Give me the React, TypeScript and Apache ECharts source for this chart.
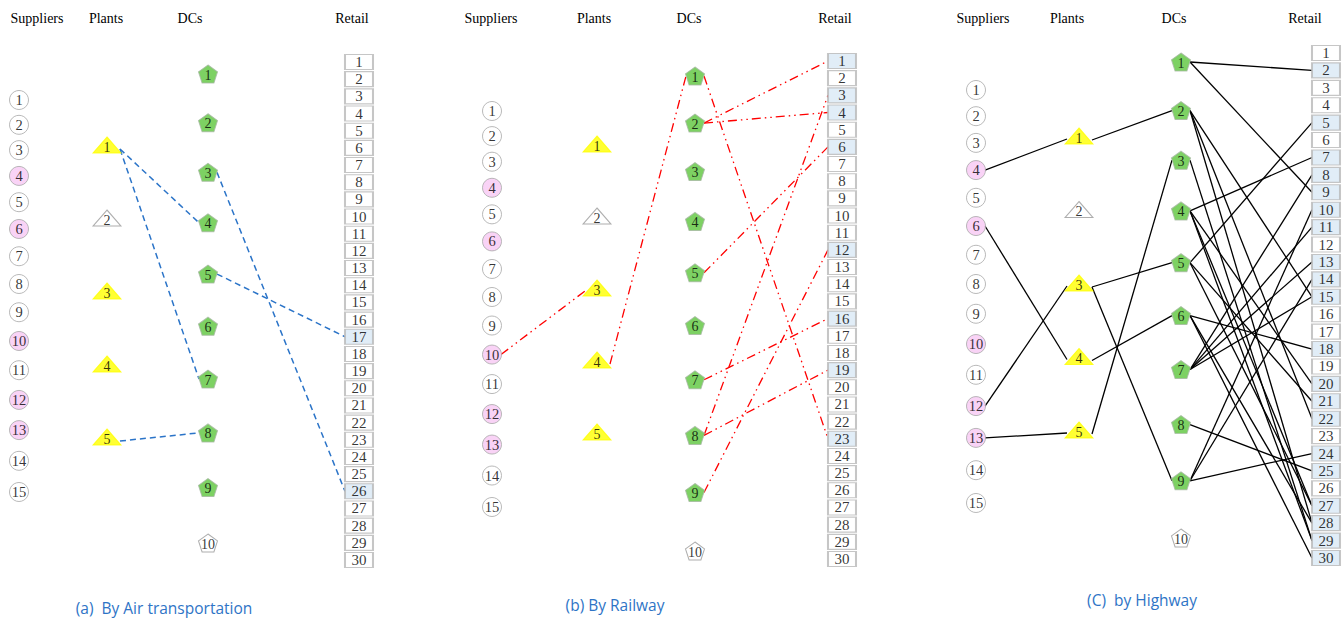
import React, { useEffect, useRef } from "react";
import * as echarts from "echarts";

// ---------- data ----------
const supplierIds = ["1", "2", "3", "4", "5", "6", "7", "8", "9", "10", "11", "12", "13", "14", "15"];
const plantIds = ["1", "2", "3", "4", "5"];
const dcIds = ["1", "2", "3", "4", "5", "6", "7", "8", "9", "10"];
const retailIds = [
  "1", "2", "3", "4", "5", "6", "7", "8", "9", "10",
  "11", "12", "13", "14", "15", "16", "17", "18", "19", "20",
  "21", "22", "23", "24", "25", "26", "27", "28", "29", "30",
];
const activeSuppliers = [4, 6, 10, 12, 13];
const activePlants = [1, 3, 4, 5];
const activeDCs = [1, 2, 3, 4, 5, 6, 7, 8, 9];
const layerTitles = ["Suppliers", "Plants", "DCs", "Retail"];
const panelCaptions = ["(a)  By Air transportation", "(b) By Railway", "(C)  by Highway"];

// links: [from, to]
const airSupplierPlant: number[][] = [];
const airPlantDC = [[1, 4], [1, 7], [5, 8]];
const airDCRetail = [[3, 26], [5, 17]];

const railSupplierPlant = [[10, 3]];
const railPlantDC = [[4, 1]];
const railDCRetail = [[1, 23], [2, 1], [2, 4], [5, 6], [7, 16], [8, 3], [8, 19], [9, 12]];

const roadSupplierPlant = [[4, 1], [6, 4], [12, 3], [13, 5]];
const roadPlantDC = [[1, 2], [3, 5], [3, 9], [4, 6], [5, 3]];
const roadDCRetail = [
  [1, 2], [1, 9], [2, 15], [2, 22], [2, 28], [3, 29], [4, 7], [4, 20], [4, 27], [4, 29],
  [5, 5], [5, 21], [5, 27], [6, 18], [6, 28], [6, 30], [7, 8], [7, 11], [7, 13], [7, 15],
  [8, 25], [9, 10], [9, 14], [9, 24],
];

// ---------- layout / style ----------
const W = 1344;
const H = 618;
const PANELS = [
  { cols: [19, 107, 208, 359], sup: [100, 492, 48], plant: [145, 437, 0], dc: [74, 543, 34], ret: [62, 560, 0], heads: [37, 106, 190, 352], cap: [164, 608] },
  { cols: [492, 597, 695, 842], sup: [111, 507, 48], plant: [144, 432, 0], dc: [76, 551, 58], ret: [61, 559, 0], heads: [491, 594, 689, 835], cap: [615, 605] },
  { cols: [976, 1079, 1181, 1326], sup: [90, 503, 50], plant: [136, 430, 0], dc: [62, 538, 44], ret: [53, 558, 0], heads: [983, 1067, 1174, 1305], cap: [1142, 600] },
];
const LINK_STYLES = [
  { color: "#2b74c8", width: 1.5, type: [6, 4] },
  { color: "#ff0000", width: 1.3, type: [9, 4, 1.5, 4, 1.5, 4] },
  { color: "#000000", width: 1.3, type: "solid" },
];
const PINK = "#f8c8f4";
const YELLOW = "#ffff00";
const GREEN = "#5cc63c";
const BLUE_CELL = "#dae8f5";
const SERIF = '"Liberation Serif", "Times New Roman", serif';
const PENTAGON = "path://M0,-10 L9.5,-3.1 L5.9,8.1 L-5.9,8.1 L-9.5,-3.1 Z";

function pos(spec: number[], n: number, i: number) {
  const s = i / (n - 1);
  return spec[0] + (spec[1] - spec[0]) * s + spec[2] * s * (s - 1);
}

function nodeLabel(offset: number[] = [0, 0], size = 14) {
  return {
    show: true,
    position: "inside",
    formatter: "{b}",
    color: "#000",
    fontFamily: SERIF,
    fontSize: size,
    offset,
  };
}

function buildPanel(pi: number, sp: number[][], pd: number[][], dr: number[][]) {
  const p = PANELS[pi];
  const supY = (k: number) => pos(p.sup, supplierIds.length, k - 1);
  const plantY = (k: number) => pos(p.plant, plantIds.length, k - 1);
  const dcY = (k: number) => pos(p.dc, dcIds.length, k - 1);
  const retY = (k: number) => pos(p.ret, retailIds.length, k - 1);
  const activeRetail = new Set(dr.map((l) => l[1]));
  const ls = LINK_STYLES[pi];

  const linkData = [
    ...sp.map(([a, b]) => ({ coords: [[p.cols[0] + 9, supY(a)], [p.cols[1] - 12, plantY(b) + 3]] })),
    ...pd.map(([a, b]) => ({ coords: [[p.cols[1] + 13, plantY(a) + 4], [p.cols[2] - 9, dcY(b)]] })),
    ...dr.map(([a, b]) => ({ coords: [[p.cols[2] + 9, dcY(a)], [p.cols[3] - 14, retY(b)]] })),
  ];

  const series: any[] = [
    {
      type: "lines",
      coordinateSystem: "cartesian2d",
      silent: true,
      z: 1,
      lineStyle: { color: ls.color, width: ls.width, type: ls.type, opacity: 1, curveness: 0 },
      data: linkData,
    },
    {
      type: "scatter",
      silent: true,
      z: 3,
      symbol: "circle",
      symbolSize: 19,
      label: nodeLabel([0, 0], 14.5),
      data: supplierIds.map((id, i) => ({
        name: id,
        value: [p.cols[0], supY(i + 1)],
        itemStyle: {
          color: activeSuppliers.includes(i + 1) ? PINK : "#ffffff",
          borderColor: "#a8a8a8",
          borderWidth: 1,
        },
      })),
    },
    {
      type: "scatter",
      silent: true,
      z: 3,
      symbol: "triangle",
      symbolSize: [28, 16],
      label: nodeLabel([0, 2]),
      data: plantIds.map((id, i) => {
        const on = activePlants.includes(i + 1);
        return {
          name: id,
          value: [p.cols[1], plantY(i + 1)],
          itemStyle: { color: on ? YELLOW : "#ffffff", borderColor: on ? YELLOW : "#9a9a9a", borderWidth: 1 },
        };
      }),
    },
    {
      type: "scatter",
      silent: true,
      z: 3,
      symbol: PENTAGON,
      symbolSize: [19, 18],
      label: nodeLabel([0, 1]),
      data: dcIds.map((id, i) => {
        const on = activeDCs.includes(i + 1);
        return {
          name: id,
          value: [p.cols[2], dcY(i + 1)],
          itemStyle: { color: on ? GREEN : "#ffffff", borderColor: on ? "#a5b8a0" : "#9a9a9a", borderWidth: 1 },
        };
      }),
    },
    {
      type: "scatter",
      silent: true,
      z: 3,
      symbol: "rect",
      symbolSize: [28, 15],
      label: nodeLabel([0, 0], 15),
      data: retailIds.map((id, i) => ({
        name: id,
        value: [p.cols[3], retY(i + 1)],
        itemStyle: {
          color: activeRetail.has(i + 1) ? BLUE_CELL : "#ffffff",
          borderColor: "#b8b8b8",
          borderWidth: 1.5,
        },
      })),
    },
  ];

  const graphics: any[] = layerTitles.map((t, k) => ({
    type: "text",
    x: p.heads[k],
    y: 18,
    silent: true,
    style: {
      text: t,
      font: `14px ${SERIF}`,
      fill: "#000",
      align: "center",
      verticalAlign: "middle",
      textAlign: "center",
      textVerticalAlign: "middle",
    },
  }));
  graphics.push({
    type: "text",
    x: p.cap[0],
    y: p.cap[1],
    silent: true,
    style: {
      text: panelCaptions[pi],
      font: '15.5px "Open Sans", "Noto Sans", sans-serif',
      fill: "#2e74c6",
      align: "center",
      verticalAlign: "middle",
      textAlign: "center",
      textVerticalAlign: "middle",
    },
  });
  return { series, graphics };
}

export default function App() {
  const ref = useRef<HTMLDivElement>(null);
  useEffect(() => {
    if (!ref.current) return;
    const chart = echarts.init(ref.current, undefined, { renderer: "svg" });
    const a = buildPanel(0, airSupplierPlant, airPlantDC, airDCRetail);
    const b = buildPanel(1, railSupplierPlant, railPlantDC, railDCRetail);
    const c = buildPanel(2, roadSupplierPlant, roadPlantDC, roadDCRetail);
    chart.setOption({
      animation: false,
      backgroundColor: "#ffffff",
      grid: { left: 0, right: 0, top: 0, bottom: 0 },
      xAxis: { type: "value", min: 0, max: W, show: false },
      yAxis: { type: "value", min: 0, max: H, inverse: true, show: false },
      series: [...a.series, ...b.series, ...c.series],
      graphic: [...a.graphics, ...b.graphics, ...c.graphics],
    });
    return () => chart.dispose();
  }, []);
  return (
    <div
      ref={ref}
      style={{ position: "fixed", left: 0, top: 0, width: W, height: H, background: "#fff" }}
    />
  );
}
